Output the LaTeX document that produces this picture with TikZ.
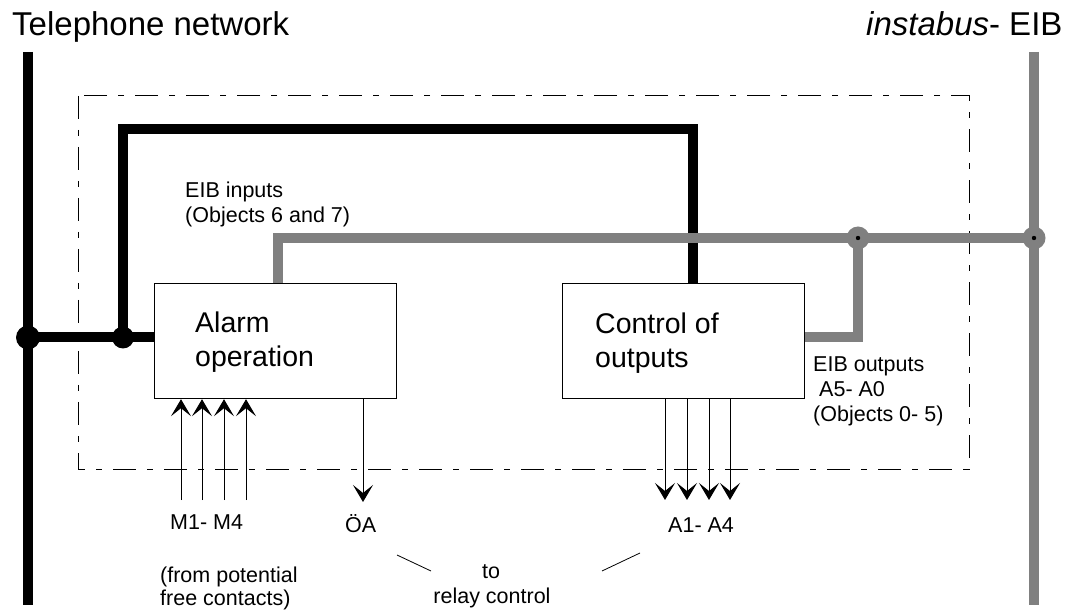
\documentclass[tikz,border=0pt]{standalone}
\usepackage{fontspec}
\setmainfont{Liberation Sans}
\usetikzlibrary{arrows.meta}
\definecolor{eibgrey}{HTML}{808080}
\begin{document}
\begin{tikzpicture}[x=1pt,y=-1pt,
  blk/.style={line width=10pt},
  gry/.style={line width=10pt, draw=eibgrey},
  unitbox/.style={draw, line width=1.2pt, anchor=north west, inner sep=0pt, minimum width=242pt, minimum height=115pt},
  sig/.style={line width=1pt, -{Stealth[length=17pt,width=20pt,inset=8pt]}},
  big/.style={font=\fontsize{33}{40}\selectfont, anchor=base west, inner sep=0pt},
  mid/.style={font=\fontsize{28.5}{34}\selectfont, anchor=base west, inner sep=0pt},
  small/.style={font=\fontsize{21.5}{25}\selectfont, anchor=base west, inner sep=0pt},
  frame/.style={line width=1pt, dash pattern=on 23pt off 11pt on 6pt off 11pt},
  leader/.style={line width=0.8pt},
]
\useasboundingbox[fill=white] (0,0) rectangle (1069,612);

% dash-dot frame
\draw[frame] (78,96) rectangle (969,469);

% units
\node[unitbox] (alarm) at (154,283) {};
\node[unitbox] (control) at (562,283) {};

% coordinates
\coordinate (T1) at (28,52);
\coordinate (T2) at (28,605);
\coordinate (E1) at (1034,52);
\coordinate (E2) at (1034,605);
\coordinate (jA) at (28,337.5);
\coordinate (jB) at (123,337.5);
\coordinate (bTL) at (123,129);
\coordinate (bTR) at (693,129);
\coordinate (gA) at (278,238);
\coordinate (gJ1) at (858,238);
\coordinate (gJ2) at (1034,238);
\coordinate (gEnd) at (1040,238);
\coordinate (gC) at (858,337);

% lines of networks
\draw[blk] (T1) -- (T2);
\draw[gry] (E1) -- (E2);

% telephone connections
\draw[blk] (jA) -- (jA -| alarm.west);
\draw[blk, line join=miter] (jB) -- (bTL) -- (bTR) -- (bTR |- control.north);

% EIB connections
\draw[gry, line join=miter] (gA |- alarm.north) -- (gA) -- (gEnd);
\draw[gry, line join=miter] (gJ1) -- (gC) -- (gC -| control.east);

% junctions
\fill (jA) circle (12pt);
\fill (jB) circle (11pt);
\fill[eibgrey] (gJ1) circle (11.5pt);
\fill (gJ1) circle (2.2pt);
\fill[eibgrey] (gJ2) circle (11.5pt);
\fill (gJ2) circle (2.2pt);

% signal arrows
\foreach \x/\n in {181/1,202/2,224/3,246/4}{
  \coordinate (m\n) at (\x,500);
  \draw[sig] (m\n) -- (m\n |- alarm.south);
}
\coordinate (oa) at (363,502);
\draw[sig] (oa |- alarm.south) -- (oa);
\foreach \x/\n in {665/1,687/2,709/3,730/4}{
  \coordinate (a\n) at (\x,500);
  \draw[sig] (a\n |- control.south) -- (a\n);
}

% texts
\node[big] (tel) at (12,36) {Telephone network};
\node[big] (eib) at (866,36) {\textit{instabus}- EIB};
\node[small] (inA) at (185,198) {EIB inputs};
\node[small] (inB) at (185,223) {(Objects 6 and 7)};
\node[mid] (al1) at (195,333) {Alarm};
\node[mid] (al2) at (195,367) {operation};
\node[mid] (co1) at (595,334) {Control of};
\node[mid] (co2) at (595,368) {outputs};
\node[small] (ou1) at (813,372) {EIB outputs};
\node[small] (ou2) at (819,397) {A5- A0};
\node[small] (ou3) at (813,421) {(Objects 0- 5)};
\node[small] (mm) at (170,529) {M1- M4};
\node[small] (oalab) at (345,532) {ÖA};
\node[small] (aa) at (668,532) {A1- A4};
\node[small] (fr1) at (160,582) {(from potential};
\node[small] (fr2) at (160,605) {free contacts)};
\node[small, anchor=base] (to) at (491,578) {to};
\node[small, anchor=base] (rc) at (492,603) {relay control};

% leader strokes
\draw[leader] (397,555) -- (431,571);
\draw[leader] (602,571) -- (640,553);
\end{tikzpicture}
\end{document}
